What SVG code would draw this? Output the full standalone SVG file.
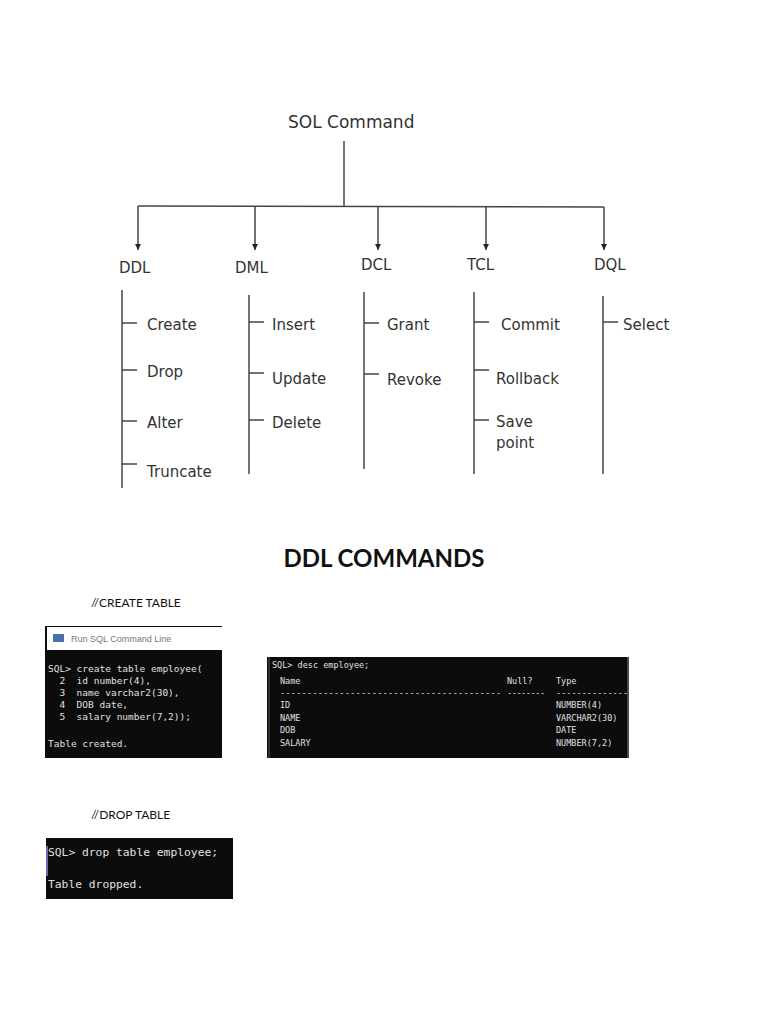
<svg xmlns="http://www.w3.org/2000/svg" width="768" height="1024" viewBox="0 0 768 1024">
<style>
.t{font-family:"DejaVu Sans",Verdana,sans-serif;font-size:15px;fill:#333}
.h{font-family:"DejaVu Sans",Verdana,sans-serif;font-size:15px;fill:#333}
.ln{stroke:#444;stroke-width:1.5;fill:none}
.tk{stroke:#444;stroke-width:1.5}
.c{font-family:"DejaVu Sans Mono","Liberation Mono",monospace;font-size:9px;fill:#e0e0e0}
.cap{font-family:Lato,"Liberation Sans",Arial,sans-serif;font-size:12px;fill:#111}
</style>
<defs>
<marker id="ar" markerWidth="7" markerHeight="7" refX="6" refY="3" orient="auto" markerUnits="userSpaceOnUse">
<path d="M0,0 L6,3 L0,6 Z" fill="#222"/>
</marker>
</defs>
<rect width="768" height="1024" fill="#fff"/>

<g id="connectors">
<line class="ln" x1="344" y1="141" x2="344" y2="206"/>
<line class="ln" x1="138" y1="206" x2="604" y2="207"/>
<line class="ln" x1="138" y1="206" x2="138" y2="250" marker-end="url(#ar)"/>
<line class="ln" x1="255" y1="206" x2="255" y2="250" marker-end="url(#ar)"/>
<line class="ln" x1="378" y1="206" x2="378" y2="250" marker-end="url(#ar)"/>
<line class="ln" x1="486" y1="207" x2="486" y2="250" marker-end="url(#ar)"/>
<line class="ln" x1="604" y1="207" x2="604" y2="250" marker-end="url(#ar)"/>
<line class="ln" x1="122" y1="290" x2="122" y2="488"/>
<line class="ln" x1="249" y1="295" x2="249" y2="474"/>
<line class="ln" x1="364" y1="292" x2="364" y2="469"/>
<line class="ln" x1="474" y1="292" x2="474" y2="474"/>
<line class="ln" x1="603" y1="296" x2="603" y2="474"/>
<line class="tk" x1="122" y1="323" x2="137" y2="323"/>
<line class="tk" x1="122" y1="370" x2="137" y2="370"/>
<line class="tk" x1="122" y1="421" x2="137" y2="421"/>
<line class="tk" x1="122" y1="464" x2="137" y2="464"/>
<line class="tk" x1="249" y1="322" x2="264" y2="322"/>
<line class="tk" x1="249" y1="373" x2="264" y2="373"/>
<line class="tk" x1="249" y1="420" x2="264" y2="420"/>
<line class="tk" x1="364" y1="323" x2="379" y2="323"/>
<line class="tk" x1="364" y1="374" x2="379" y2="374"/>
<line class="tk" x1="474" y1="322" x2="489" y2="322"/>
<line class="tk" x1="474" y1="370" x2="489" y2="370"/>
<line class="tk" x1="474" y1="420" x2="489" y2="420"/>
<line class="tk" x1="603" y1="322" x2="618" y2="322"/>
</g>

<g id="root"><text class="t" x="288" y="128" style="font-size:17px">SOL Command</text></g>
<g id="ddl"><text class="h" x="119" y="273">DDL</text></g>
<g id="dml"><text class="h" x="235" y="273">DML</text></g>
<g id="dcl"><text class="h" x="361" y="270">DCL</text></g>
<g id="tcl"><text class="h" x="467" y="270">TCL</text></g>
<g id="dql"><text class="h" x="594" y="270">DQL</text></g>

<g id="ddl-items">
<text class="t" x="147" y="330">Create</text>
<text class="t" x="147" y="377">Drop</text>
<text class="t" x="147" y="428">Alter</text>
<text class="t" x="147" y="477">Truncate</text>
</g>
<g id="dml-items">
<text class="t" x="272" y="330">Insert</text>
<text class="t" x="272" y="384">Update</text>
<text class="t" x="272" y="428">Delete</text>
</g>
<g id="dcl-items">
<text class="t" x="387" y="330">Grant</text>
<text class="t" x="387" y="385">Revoke</text>
</g>
<g id="tcl-items">
<text class="t" x="501" y="330">Commit</text>
<text class="t" x="496" y="384">Rollback</text>
<text class="t" x="496" y="427">Save</text>
<text class="t" x="496" y="448">point</text>
</g>
<g id="dql-items">
<text class="t" x="623" y="330">Select</text>
</g>

<g id="heading">
<text x="384" y="567" text-anchor="middle" style="font-family:Lato,'Liberation Sans',sans-serif;font-weight:bold;font-size:24px;fill:#111">DDL COMMANDS</text>
</g>

<g id="caption-create"><text class="cap" x="91" y="607">//CREATE TABLE</text></g>

<g id="screen-create">
<rect x="45" y="626" width="177" height="132" fill="#0c0c0c"/>
<rect x="47" y="627" width="175" height="23" fill="#fff"/>
<rect x="53" y="634" width="11" height="8" fill="#4a6fa5"/>
<text x="71" y="642" style="font-family:'Liberation Sans',Arial,sans-serif;font-size:9px;fill:#777">Run SQL Command Line</text>
<text class="c" x="48" y="672" style="font-size:9.5px">SQL&gt; create table employee(</text>
<text class="c" x="48" y="684" xml:space="preserve" style="font-size:9.5px">  2  id number(4),</text>
<text class="c" x="48" y="696" xml:space="preserve" style="font-size:9.5px">  3  name varchar2(30),</text>
<text class="c" x="48" y="708" xml:space="preserve" style="font-size:9.5px">  4  DOB date,</text>
<text class="c" x="48" y="720" xml:space="preserve" style="font-size:9.5px">  5  salary number(7,2));</text>
<text class="c" x="48" y="747" style="font-size:9.5px">Table created.</text>
</g>

<g id="screen-desc">
<rect x="267" y="657" width="362" height="101" fill="#0c0c0c"/>
<line x1="269" y1="657" x2="269" y2="758" stroke="#555" stroke-width="1"/>
<line x1="628" y1="657" x2="628" y2="758" stroke="#888" stroke-width="1"/>
<text class="c" x="272" y="668" style="font-size:8.5px">SQL&gt; desc employee;</text>
<text class="c" x="280" y="684" style="font-size:8.5px">Name</text>
<text class="c" x="507" y="684" style="font-size:8.5px">Null?</text>
<text class="c" x="556" y="684" style="font-size:8.5px">Type</text>
<text class="c" x="280" y="696" textLength="221" lengthAdjust="spacing" style="font-size:8.5px">-----------------------------------------</text>
<text class="c" x="507" y="696" textLength="38" lengthAdjust="spacing" style="font-size:8.5px">--------</text>
<text class="c" x="556" y="696" textLength="72" lengthAdjust="spacing" style="font-size:8.5px">--------------</text>
<text class="c" x="280" y="708" style="font-size:8.5px">ID</text>
<text class="c" x="280" y="721" style="font-size:8.5px">NAME</text>
<text class="c" x="280" y="733" style="font-size:8.5px">DOB</text>
<text class="c" x="280" y="746" style="font-size:8.5px">SALARY</text>
<text class="c" x="556" y="708" style="font-size:8.5px">NUMBER(4)</text>
<text class="c" x="556" y="721" style="font-size:8.5px">VARCHAR2(30)</text>
<text class="c" x="556" y="733" style="font-size:8.5px">DATE</text>
<text class="c" x="556" y="746" style="font-size:8.5px">NUMBER(7,2)</text>
</g>

<g id="caption-drop"><text class="cap" x="91" y="819">//DROP TABLE</text></g>

<g id="screen-drop">
<rect x="46" y="838" width="187" height="61" fill="#0c0c0c"/>
<line x1="47" y1="846" x2="47" y2="876" stroke="#6a6aa8" stroke-width="2"/>
<text class="c" x="48" y="856" style="font-size:11.3px">SQL&gt; drop table employee;</text>
<text class="c" x="48" y="888" style="font-size:11.3px">Table dropped.</text>
</g>
</svg>
